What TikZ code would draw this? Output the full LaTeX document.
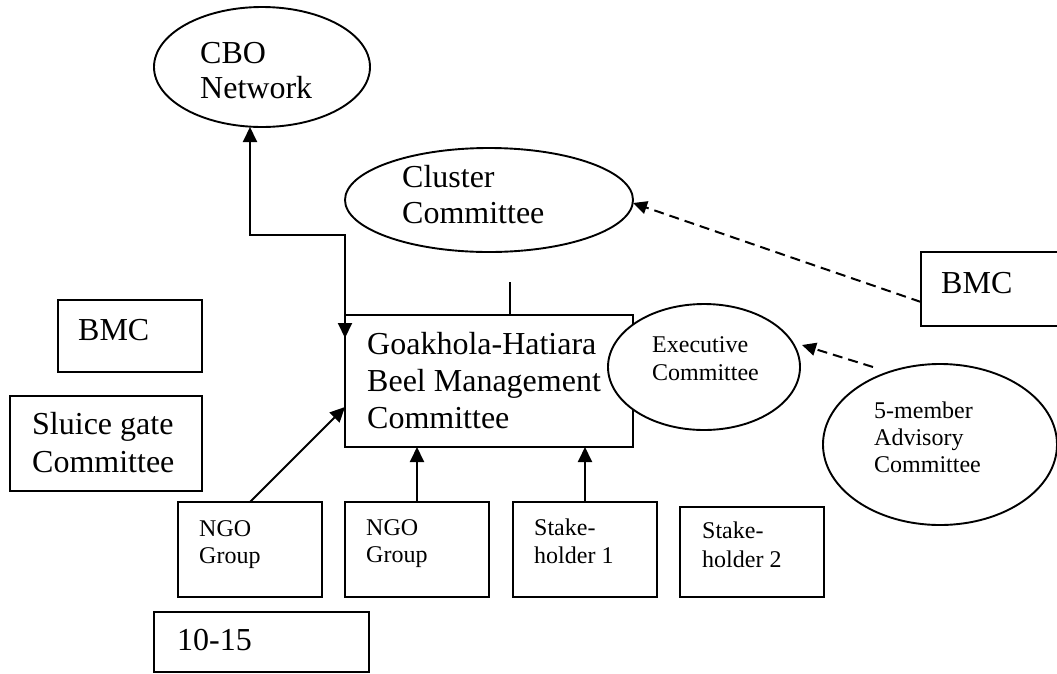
\documentclass[tikz,border=0pt]{standalone}
\usepackage{fontspec}
\setmainfont{Liberation Serif}
\usetikzlibrary{shapes.geometric,arrows.meta,calc}
\begin{document}
\begin{tikzpicture}[x=1pt,y=-1pt,
  shapeline/.style={draw, line width=1.9pt, inner sep=0pt, outer sep=0pt},
  oval/.style={shapeline, ellipse, fill=white},
  box/.style={shapeline, rectangle},
  big/.style={anchor=base west, inner sep=0pt, font=\fontsize{32pt}{37pt}\selectfont},
  small/.style={anchor=base west, inner sep=0pt, font=\fontsize{24pt}{28pt}\selectfont},
  solidarrow/.style={line width=2pt, -{Triangle[length=15pt,width=14pt]}},
  twoarrow/.style={line width=2pt, {Triangle[length=15pt,width=14pt]}-{Triangle[length=15pt,width=14pt]}},
  dasharrow/.style={line width=2pt, dash pattern=on 10pt off 6pt, -{Triangle[length=14pt,width=13pt]}},
  plainline/.style={line width=2pt},
]
\useasboundingbox (0,0) rectangle (1057,673);
\clip (0,0) rectangle (1057,673);

% boxes
\node[box, minimum width=288pt, minimum height=132pt] (main) at (489,381) {};
\node[box, minimum width=149pt, minimum height=74pt] (bmcR) at (995.5,289) {};
\node[box, minimum width=144pt, minimum height=72pt] (bmcL) at (130,336) {};
\node[box, minimum width=192pt, minimum height=95pt] (sluice) at (106,443.5) {};
\node[box, minimum width=144pt, minimum height=95pt] (ngo1) at (250,549.5) {};
\node[box, minimum width=144pt, minimum height=95pt] (ngo2) at (417,549.5) {};
\node[box, minimum width=144pt, minimum height=95pt] (sh1) at (585,549.5) {};
\node[box, minimum width=144pt, minimum height=90pt] (sh2) at (752,552) {};
\node[box, minimum width=215pt, minimum height=60pt] (range) at (261.5,642) {};

% ellipses
\node[oval, minimum width=216pt, minimum height=120pt] (cbo) at (262,67) {};
\node[oval, minimum width=288pt, minimum height=104pt] (cluster) at (489,200) {};
\node[oval, minimum width=192pt, minimum height=126pt] (exec) at (704,367) {};
\node[oval, minimum width=234pt, minimum height=161pt] (adv) at (940,444.5) {};

% texts
\node[big] (tcbo1) at (200,63) {CBO};
\node[big] (tcbo2) at (200,98) {Network};
\node[big] (tcl1) at (402,187) {Cluster};
\node[big] (tcl2) at (402,223) {Committee};
\node[big] (tm1) at (367,354) {Goakhola-Hatiara};
\node[big] (tm2) at (367,391) {Beel Management};
\node[big] (tm3) at (367,428) {Committee};
\node[small] (tex1) at (652,352) {Executive};
\node[small] (tex2) at (652,380) {Committee};
\node[small] (tad1) at (874,418) {5-member};
\node[small] (tad2) at (874,445) {Advisory};
\node[small] (tad3) at (874,472) {Committee};
\node[big] (tbr) at (941,293) {BMC};
\node[big] (tbl) at (78,340) {BMC};
\node[big] (tsl1) at (32,434) {Sluice gate};
\node[big] (tsl2) at (32,472) {Committee};
\node[small] (tn11) at (199,536) {NGO};
\node[small] (tn12) at (199,563) {Group};
\node[small] (tn21) at (366,535) {NGO};
\node[small] (tn22) at (366,562) {Group};
\node[small] (ts11) at (534,535) {Stake-};
\node[small] (ts12) at (534,563) {holder 1};
\node[small] (ts21) at (702,538) {Stake-};
\node[small] (ts22) at (702,567) {holder 2};
\node[big] (trange) at (177,650) {10-15};

% connectors
\coordinate (jt) at (250,235);
\draw[twoarrow] (cbo.south -| jt) -- (jt) -| ($(main.north west)+(0,23)$);
\draw[plainline] ($(main.north)+(21,0)$) -- ++(0,-33);
\draw[dasharrow] ($(bmcR.west)+(0,13)$) -- ($(cluster.east)+(0,3)$);
\draw[dasharrow] ($(adv.center)+(-67,-77.5)$) -- ($(exec.east)+(2,-22)$);
\draw[solidarrow] (ngo1.north) -- ($(main.south west)+(0,-40)$);
\draw[solidarrow] (ngo2.north) -- (ngo2.north |- main.south);
\draw[solidarrow] (sh1.north) -- (sh1.north |- main.south);
\end{tikzpicture}
\end{document}
